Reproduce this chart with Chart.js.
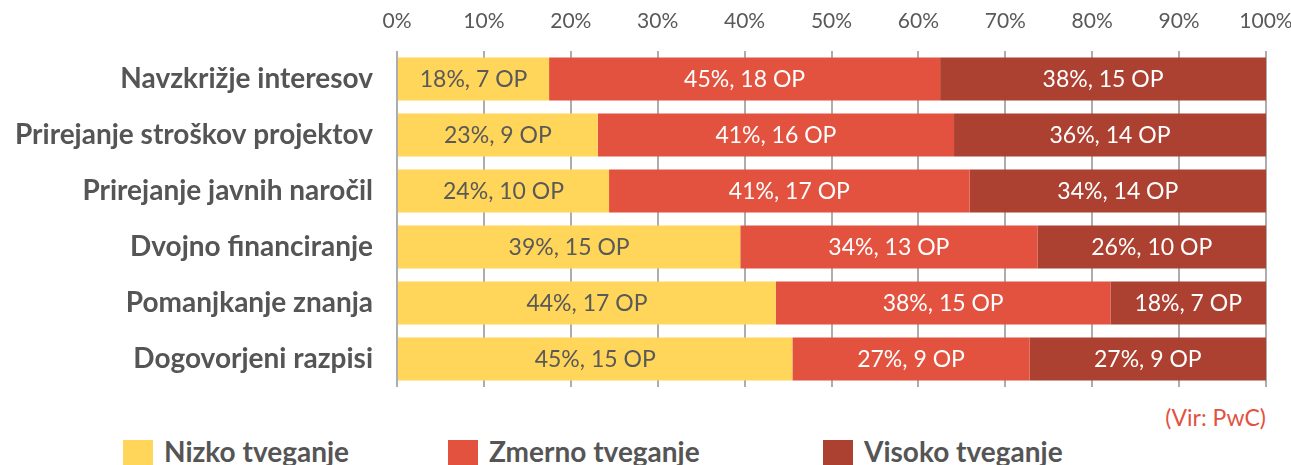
<!DOCTYPE html>
<html>
<head>
<meta charset="utf-8">
<script src="https://cdn.jsdelivr.net/npm/chart.js@4/dist/chart.umd.min.js"></script>
<style>
  body { margin: 0; background: #fff; font-family: Lato, sans-serif; }
  #wrap { position: relative; width: 1291px; height: 465px; overflow: hidden; }
  #box { position: absolute; left: 0; top: 0; width: 1291px; height: 390px; }
  .src { position: absolute; right: 25px; top: 403px; font-size: 23px; color: #e2523f; }
  .leg { position: absolute; top: 434px; font-size: 28px; font-weight: bold; color: #555; white-space: nowrap; }
  .leg span { display: inline-block; width: 30px; height: 28px; vertical-align: top; margin: 6px 11px 0 0; }
</style>
</head>
<body>
<div id="wrap">
  <div id="box"><canvas id="chart"></canvas></div>
  <div class="src">(Vir: PwC)</div>
  <div class="leg" style="left:123px"><span style="background:#ffd55a"></span>Nizko tveganje</div>
  <div class="leg" style="left:448px"><span style="background:#e2523f"></span>Zmerno tveganje</div>
  <div class="leg" style="left:823px"><span style="background:#ac4131"></span>Visoko tveganje</div>
</div>
<script>
const categories = ['Navzkrižje interesov', 'Prirejanje stroškov projektov', 'Prirejanje javnih naročil',
  'Dvojno financiranje', 'Pomanjkanje znanja', 'Dogovorjeni razpisi'];

// share of OP in each risk level (%)
const lowShare = [17.5, 23.1, 24.4, 39.5, 43.6, 45.5];
const midShare = [45.0, 41.0, 41.5, 34.2, 38.5, 27.3];
const highShare = [37.5, 35.9, 34.1, 26.3, 17.9, 27.2];

// label texts shown in the bars
const lowLabels = ['18%, 7 OP', '23%, 9 OP', '24%, 10 OP', '39%, 15 OP', '44%, 17 OP', '45%, 15 OP'];
const midLabels = ['45%, 18 OP', '41%, 16 OP', '41%, 17 OP', '34%, 13 OP', '38%, 15 OP', '27%, 9 OP'];
const highLabels = ['38%, 15 OP', '36%, 14 OP', '34%, 14 OP', '26%, 10 OP', '18%, 7 OP', '27%, 9 OP'];

const xTicks = [0, 10, 20, 30, 40, 50, 60, 70, 80, 90, 100];

Chart.defaults.font.family = 'Lato';
Chart.defaults.color = '#595959';

// draw the text in the middle of each segment
const barText = {
  id: 'barText',
  afterDatasetsDraw(chart) {
    const c = chart.ctx;
    c.save();
    c.font = '23px Lato';
    c.textAlign = 'center';
    c.textBaseline = 'middle';
    chart.data.datasets.forEach((ds, i) => {
      const meta = chart.getDatasetMeta(i);
      meta.data.forEach((bar, j) => {
        c.fillStyle = ds.textColor;
        c.fillText(ds.texts[j], (bar.x + bar.base) / 2, bar.y + 1);
      });
    });
    c.restore();
  }
};

const ctx = document.getElementById('chart');
new Chart(ctx, {
  type: 'bar',
  data: {
    labels: categories,
    datasets: [
      { label: 'Nizko tveganje', data: lowShare, texts: lowLabels, textColor: '#595959', backgroundColor: '#ffd55a' },
      { label: 'Zmerno tveganje', data: midShare, texts: midLabels, textColor: '#ffffff', backgroundColor: '#e2523f' },
      { label: 'Visoko tveganje', data: highShare, texts: highLabels, textColor: '#ffffff', backgroundColor: '#ac4131' }
    ]
  },
  options: {
    indexAxis: 'y',
    responsive: true,
    maintainAspectRatio: false,
    animation: false,
    layout: { padding: { left: 0, right: 25, top: 0, bottom: 3 } },
    datasets: { bar: { categoryPercentage: 1, barPercentage: 0.77, borderWidth: 0 } },
    plugins: { legend: { display: false }, tooltip: { enabled: false } },
    scales: {
      x: {
        position: 'top',
        stacked: true,
        min: 0,
        max: 100,
        afterBuildTicks: (s) => { s.ticks = xTicks.map(v => ({ value: v })); },
        afterFit: (s) => { s.height = 51; s.paddingLeft = 0; s.paddingRight = 0; },
        border: { display: false },
        grid: { color: '#adadad', lineWidth: 2, drawTicks: false },
        ticks: { font: { size: 21 }, color: '#595959', padding: 17, callback: (v) => v + '%' }
      },
      y: {
        stacked: true,
        afterFit: (s) => { s.width = 397; s.paddingTop = 0; s.paddingBottom = 0; },
        border: { display: false },
        grid: { display: false },
        ticks: { font: { size: 28, weight: 'bold' }, color: '#555555', padding: 16 }
      }
    }
  },
  plugins: [barText]
});
</script>
</body>
</html>
